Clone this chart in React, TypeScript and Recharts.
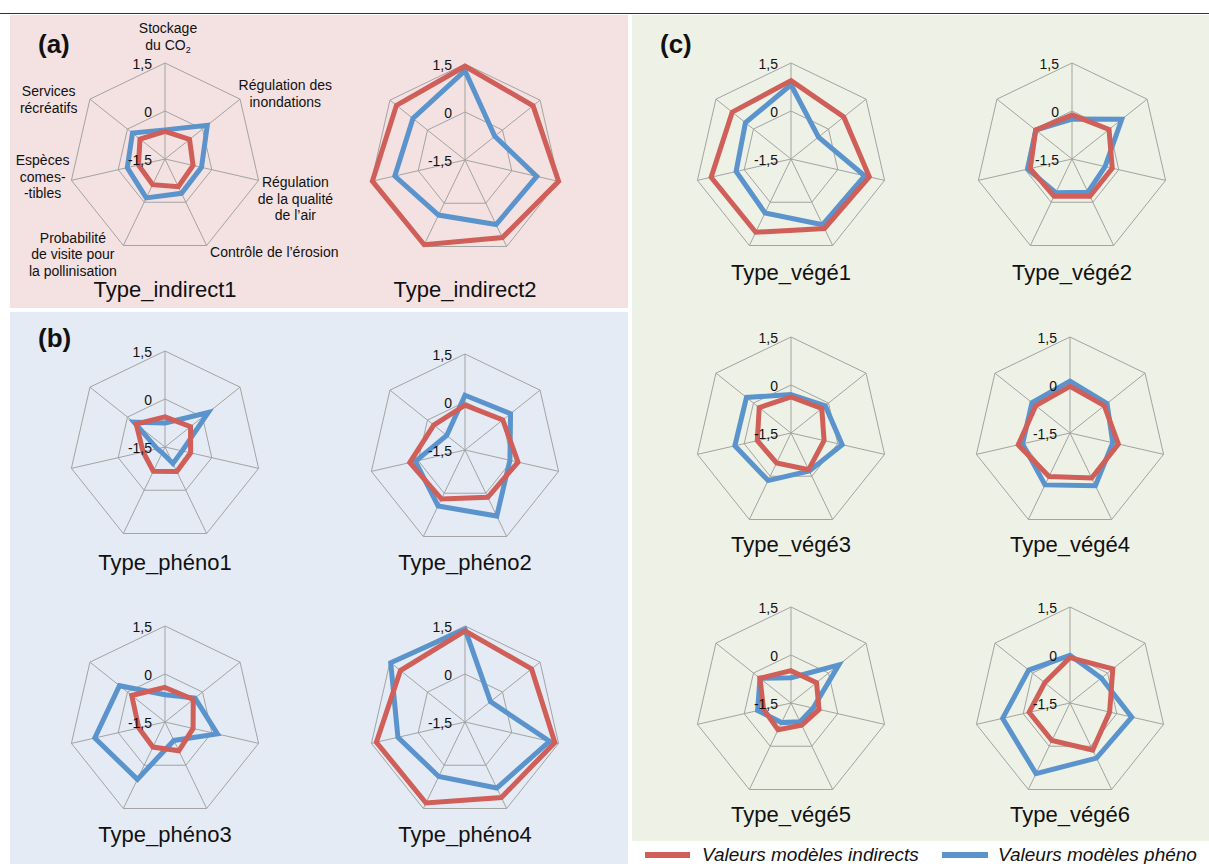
import React from "react";
import { RadarChart, Radar, PolarGrid, PolarAngleAxis, PolarRadiusAxis } from "recharts";

const SERVICES = [
  "Stockage du CO2",
  "Régulation des inondations",
  "Régulation de la qualité de l’air",
  "Contrôle de l’érosion",
  "Probabilité de visite pour la pollinisation",
  "Espèces comestibles",
  "Services récréatifs",
];

const RADIUS_TICKS = [-1.5, 0, 1.5];

// valeurs dans l'ordre de SERVICES ; IND = modèles indirects (rouge), PHENO = modèles phéno (bleu)
const IND_INDIRECT1 = [-0.64, -0.52, -0.6, -0.54, -0.61, -0.65, -0.5];
const PHENO_INDIRECT1 = [-0.59, 0.19, -0.33, -0.31, -0.15, -0.29, -0.2];
const IND_INDIRECT2 = [1.43, 1.22, 1.5, 1.19, 1.44, 1.47, 1.24];
const PHENO_INDIRECT2 = [1.29, -0.31, 0.8, 0.74, 0.41, 0.75, 0.58];

const IND_PHENO1 = [-0.56, -0.48, -0.68, -0.65, -0.66, -0.8, -0.35];
const PHENO_PHENO1 = [-0.75, 0.23, -0.95, -0.93, -1.3, -1.25, -0.26];
const IND_PHENO2 = [-0.1, 0.01, 0.2, 0.14, 0.2, 0.27, -0.25];
const PHENO_PHENO2 = [0.21, 0.32, -0.06, 0.79, 0.44, 0.09, -0.77];
const IND_PHENO3 = [-0.42, -0.37, -0.6, -0.5, -0.63, -0.66, -0.17];
const PHENO_PHENO3 = [-0.65, -0.3, 0.18, -0.86, 0.49, 0.75, 0.32];
const IND_PHENO4 = [1.35, 1.16, 1.38, 1.12, 1.31, 1.34, 1.08];
const PHENO_PHENO4 = [1.4, -0.48, 1.21, 0.79, 0.39, 0.65, 1.47];

const IND_VEGE1 = [0.95, 0.61, 1.01, 0.91, 1.04, 1.06, 0.85];
const PHENO_VEGE1 = [0.82, -0.4, 0.86, 0.78, 0.37, 0.26, 0.32];
const IND_VEGE2 = [-0.12, -0.02, -0.21, -0.21, -0.21, -0.16, -0.05];
const PHENO_VEGE2 = [-0.25, 0.49, -0.44, -0.35, -0.33, -0.08, -0.05];
const IND_VEGE3 = [-0.37, -0.27, -0.44, -0.23, -0.46, -0.42, -0.23];
const PHENO_VEGE3 = [-0.3, -0.13, 0.14, -0.18, 0.15, 0.3, 0.28];
const IND_VEGE4 = [-0.04, -0.13, 0.05, 0.06, 0.01, 0.16, -0.13];
const PHENO_VEGE4 = [0.12, -0.02, -0.13, 0.33, 0.3, 0.02, 0.02];
const IND_VEGE5 = [-0.49, -0.48, -0.6, -0.73, -0.57, -0.62, -0.26];
const PHENO_VEGE5 = [-0.71, 0.41, -0.79, -0.85, -0.82, -0.43, -0.26];
const IND_VEGE6 = [-0.08, 0.21, -0.23, 0.13, -0.2, -0.19, -0.49];
const PHENO_VEGE6 = [-0.01, -0.25, 0.48, 0.41, 0.95, 0.66, 0.15];

const RED = "#cf5f58";
const BLUE = "#5b94cc";
const GRID = "#a3a3a3";
const FONT = "'Liberation Sans', Arial, sans-serif";

const W = 390;
const H = 330;
const CX = 170;
const CY = 165;
const R = 96;

// libellés des axes (graphique Type_indirect1 seulement)
const LABEL_LINES = [
  ["Stockage", "du CO2"],
  ["Régulation des", "inondations"],
  ["Régulation", "de la qualité", "de l’air"],
  ["Contrôle de l’érosion"],
  ["Probabilité", "de visite pour", "la pollinisation"],
  ["Espèces", "comes-", "-tibles"],
  ["Services", "récréatifs"],
];
const LABEL_POS = [
  { dx: 3, dy: -22, anchor: "middle" },
  { dx: 39, dy: -4, anchor: "middle" },
  { dx: 29, dy: 5, anchor: "middle" },
  { dx: 0, dy: 4, anchor: "start" },
  { dx: -47, dy: -10, anchor: "middle" },
  { dx: -21, dy: -17, anchor: "middle" },
  { dx: -35, dy: 2, anchor: "middle" },
];

function ServiceTick(props: any) {
  const { x, y, index } = props;
  const pos = LABEL_POS[index];
  const lines = LABEL_LINES[index];
  return (
    <text x={x + pos.dx} y={y + pos.dy} textAnchor={pos.anchor} fontSize={14} fill="#111">
      {lines.map((line, i) => (
        <tspan key={i} x={x + pos.dx} dy={i === 0 ? 0 : 16.5}>
          {line === "du CO2" ? (
            <>
              du CO<tspan fontSize={9} dy={3}>2</tspan>
            </>
          ) : (
            line
          )}
        </tspan>
      ))}
    </text>
  );
}

function RadiusTick(props: any) {
  const { x, y, payload } = props;
  return (
    <text x={x - 13} y={y + 6} textAnchor="end" fontSize={14} fill="#111">
      {String(payload.value).replace(".", ",")}
    </text>
  );
}

type Spec = {
  title: string;
  ind: number[];
  pheno: number[];
  x: number;
  y: number;
  titleY: number;
  labels?: boolean;
};

const CHARTS: Spec[] = [
  { title: "Type_indirect1", ind: IND_INDIRECT1, pheno: PHENO_INDIRECT1, x: 165, y: 159, titleY: 290, labels: true },
  { title: "Type_indirect2", ind: IND_INDIRECT2, pheno: PHENO_INDIRECT2, x: 465, y: 160, titleY: 290 },
  { title: "Type_phéno1", ind: IND_PHENO1, pheno: PHENO_PHENO1, x: 165, y: 447, titleY: 563 },
  { title: "Type_phéno2", ind: IND_PHENO2, pheno: PHENO_PHENO2, x: 465, y: 450, titleY: 563 },
  { title: "Type_phéno3", ind: IND_PHENO3, pheno: PHENO_PHENO3, x: 165, y: 722, titleY: 835 },
  { title: "Type_phéno4", ind: IND_PHENO4, pheno: PHENO_PHENO4, x: 465, y: 722, titleY: 835 },
  { title: "Type_végé1", ind: IND_VEGE1, pheno: PHENO_VEGE1, x: 791, y: 159, titleY: 273 },
  { title: "Type_végé2", ind: IND_VEGE2, pheno: PHENO_VEGE2, x: 1072, y: 159, titleY: 273 },
  { title: "Type_végé3", ind: IND_VEGE3, pheno: PHENO_VEGE3, x: 791, y: 433, titleY: 545 },
  { title: "Type_végé4", ind: IND_VEGE4, pheno: PHENO_VEGE4, x: 1070, y: 433, titleY: 545 },
  { title: "Type_végé5", ind: IND_VEGE5, pheno: PHENO_VEGE5, x: 791, y: 703, titleY: 815 },
  { title: "Type_végé6", ind: IND_VEGE6, pheno: PHENO_VEGE6, x: 1070, y: 703, titleY: 815 },
];

function Spider({ spec }: { spec: Spec }) {
  const data = SERVICES.map((s, i) => ({ service: s, indirect: spec.ind[i], pheno: spec.pheno[i] }));
  return (
    <>
      <div style={{ position: "absolute", left: spec.x - CX, top: spec.y - CY }}>
        <RadarChart
          width={W}
          height={H}
          data={data}
          cx={CX}
          cy={CY}
          outerRadius={R}
          startAngle={90}
          endAngle={-270}
          margin={{ top: 0, right: 0, bottom: 0, left: 0 }}
        >
          <PolarGrid gridType="polygon" stroke={GRID} strokeWidth={1} />
          <PolarAngleAxis
            dataKey="service"
            axisLine={false}
            tickLine={false}
            tick={spec.labels ? ServiceTick : false}
          />
          <PolarRadiusAxis
            angle={90}
            type="number"
            domain={[-1.5, 1.5]}
            allowDataOverflow
            allowDecimals
            tickCount={5}
            ticks={RADIUS_TICKS}
            axisLine={false}
            tickLine={false}
            tick={RadiusTick}
          />
          <Radar dataKey="pheno" stroke={BLUE} strokeWidth={5} fill="none" fillOpacity={0} dot={false} isAnimationActive={false} />
          <Radar dataKey="indirect" stroke={RED} strokeWidth={5} fill="none" fillOpacity={0} dot={false} isAnimationActive={false} />
        </RadarChart>
      </div>
      <div
        style={{
          position: "absolute",
          left: spec.x - 150,
          top: spec.titleY - 13,
          width: 300,
          height: 26,
          lineHeight: "26px",
          textAlign: "center",
          fontSize: 22,
          color: "#111",
        }}
      >
        {spec.title}
      </div>
    </>
  );
}

const panelLabel: React.CSSProperties = {
  position: "absolute",
  fontSize: 26,
  fontWeight: "bold",
  color: "#111",
  lineHeight: "30px",
};

export default function App() {
  return (
    <div
      style={{
        position: "absolute",
        left: 0,
        top: 0,
        width: 1209,
        height: 864,
        background: "#fff",
        fontFamily: FONT,
        overflow: "hidden",
      }}
    >
      <div style={{ position: "absolute", left: 0, top: 13, width: 1209, height: 1, background: "#333" }} />
      <div style={{ position: "absolute", left: 10, top: 15, width: 618, height: 293, background: "#f3e2e1" }} />
      <div style={{ position: "absolute", left: 10, top: 312, width: 618, height: 552, background: "#e4ebf4" }} />
      <div style={{ position: "absolute", left: 632, top: 15, width: 577, height: 826, background: "#eef1e5" }} />

      <div style={{ ...panelLabel, left: 38, top: 29 }}>(a)</div>
      <div style={{ ...panelLabel, left: 38, top: 323 }}>(b)</div>
      <div style={{ ...panelLabel, left: 660, top: 29 }}>(c)</div>

      {CHARTS.map((c) => (
        <Spider key={c.title} spec={c} />
      ))}

      <div style={{ position: "absolute", left: 645, top: 852, width: 45, height: 6, background: RED }} />
      <div style={{ position: "absolute", left: 702, top: 843, fontSize: 19, fontStyle: "italic", lineHeight: "24px", color: "#111" }}>
        Valeurs modèles indirects
      </div>
      <div style={{ position: "absolute", left: 942, top: 852, width: 46, height: 6, background: BLUE }} />
      <div style={{ position: "absolute", left: 998, top: 843, fontSize: 19, fontStyle: "italic", lineHeight: "24px", color: "#111", whiteSpace: "nowrap" }}>
        Valeurs modèles phéno
      </div>
    </div>
  );
}
